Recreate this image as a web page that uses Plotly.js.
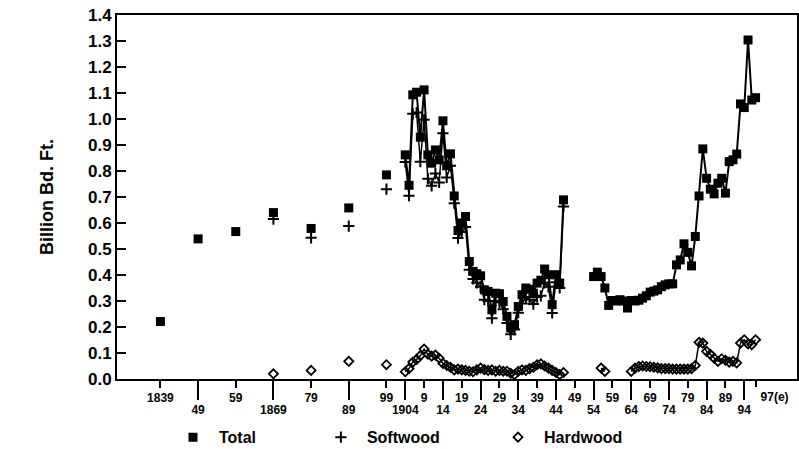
<!DOCTYPE html>
<html>
<head>
<meta charset="utf-8">
<script src="https://cdn.plot.ly/plotly-3.0.1.min.js"></script>
<style>html,body{margin:0;padding:0;background:#fff;}#chart{width:799px;height:449px;}</style>
</head>
<body>
<div id="chart"></div>
<script>
// ---- data ----
const decadeYears = [1839, 1849, 1859, 1869, 1879, 1889, 1899];
const decadeTotal = [0.221, 0.539, 0.567, 0.640, 0.579, 0.658, 0.785];
const decadeSoftwood = [null, null, null, 0.615, 0.543, 0.588, 0.730];
const decadeHardwood = [null, null, null, 0.020, 0.033, 0.068, 0.055];

const earlyYears = [1904,1905,1906,1907,1908,1909,1910,1911,1912,1913,1914,1915,1916,1917,1918,1919,1920,1921,1922,1923,1924,1925,1926,1927,1928,1929,1930,1931,1932,1933,1934,1935,1936,1937,1938,1939,1940,1941,1942,1943,1944,1945,1946];
const earlyTotal = [0.862,0.745,1.093,1.103,0.930,1.112,0.862,0.830,0.881,0.843,0.993,0.820,0.866,0.704,0.571,0.600,0.625,0.452,0.414,0.405,0.397,0.343,0.337,0.266,0.330,0.328,0.298,0.241,0.196,0.209,0.279,0.324,0.350,0.345,0.330,0.369,0.380,0.423,0.401,0.286,0.401,0.369,0.689];
const earlySoftwood = [0.835,0.705,1.020,1.025,0.836,0.997,0.770,0.743,0.790,0.756,0.945,0.775,0.820,0.676,0.542,0.565,0.585,0.420,0.385,0.370,0.355,0.305,0.300,0.234,0.300,0.295,0.268,0.215,0.172,0.190,0.255,0.290,0.315,0.305,0.288,0.315,0.320,0.370,0.355,0.254,0.372,0.350,0.663];
const earlyHardwood = [0.028,0.040,0.065,0.075,0.090,0.115,0.095,0.088,0.092,0.080,0.060,0.052,0.045,0.035,0.038,0.035,0.033,0.030,0.028,0.035,0.042,0.036,0.033,0.035,0.030,0.033,0.030,0.030,0.022,0.017,0.030,0.035,0.033,0.040,0.045,0.055,0.058,0.050,0.042,0.033,0.025,0.017,0.025];

const modernYears = [1954,1955,1956,1957,1958,1959,1960,1961,1962,1963,1964,1965,1966,1967,1968,1969,1970,1971,1972,1973,1974,1975,1976,1977,1978,1979,1980,1981,1982,1983,1984,1985,1986,1987,1988,1989,1990,1991,1992,1993,1994,1995,1996,1997];
const modernTotal = [0.394,0.411,0.394,0.350,0.283,0.302,0.300,0.305,0.300,0.273,0.302,0.300,0.303,0.311,0.320,0.334,0.338,0.343,0.355,0.362,0.366,0.366,0.439,0.458,0.520,0.487,0.435,0.548,0.704,0.885,0.772,0.730,0.712,0.753,0.772,0.715,0.836,0.843,0.865,1.058,1.044,1.304,1.073,1.082];
const modernHardwood = [null,null,0.042,0.029,null,null,null,null,null,null,0.029,0.042,0.048,0.050,0.048,0.047,0.045,0.043,0.040,0.040,0.040,0.038,0.038,0.038,0.038,0.038,0.040,0.052,0.141,0.138,0.106,0.095,0.080,0.068,0.078,0.072,0.065,0.068,0.062,0.138,0.151,0.135,0.132,0.151];

// tick labels
const shortTickYears = [1839,1859,1879,1899,1909,1919,1929,1939,1949,1959,1969,1979,1989];
const shortTickText = ['1839','59','79','99','9','19','29','39','49','59','69','79','89'];
const estTickYears = [1997];
const estTickText = ['97(e)'];
const longTickYears = [1849,1869,1889,1904,1914,1924,1934,1944,1954,1964,1974,1984,1994];
const longTickText = ['49','1869','89','1904','14','24','34','44','54','64','74','84','94'];
const yTicks = [0,0.1,0.2,0.3,0.4,0.5,0.6,0.7,0.8,0.9,1.0,1.1,1.2,1.3,1.4];

// ---- styles ----
const FONT = 'Arial, "Liberation Sans", Helvetica, sans-serif';
const sq = {symbol:'square', size:9, color:'#000'};
const cr = {symbol:'cross-thin', size:8, color:'#000', line:{color:'#000', width:2}};
const dm = {symbol:'diamond-open', size:7, color:'#000', line:{color:'#000', width:1.8}};
const tickFont = {family:FONT, size:12, weight:'bold', color:'#000'};
const legFont = {family:FONT, size:16, weight:'bold', color:'#000'};

const traces = [
  {x:decadeYears, y:decadeSoftwood, mode:'markers', marker:cr, name:'Softwood', legend:'legend2', showlegend:true},
  {x:earlyYears, y:earlySoftwood, mode:'lines+markers', marker:cr, line:{color:'#000', width:1.5}, showlegend:false},
  {x:decadeYears, y:decadeHardwood, mode:'markers', marker:dm, name:'Hardwood', legend:'legend3', showlegend:true},
  {x:earlyYears, y:earlyHardwood, mode:'lines+markers', marker:dm, line:{color:'#000', width:1.5}, showlegend:false},
  {x:modernYears, y:modernHardwood, mode:'lines+markers', marker:dm, line:{color:'#000', width:1.5}, showlegend:false, connectgaps:false},
  {x:decadeYears, y:decadeTotal, mode:'markers', marker:sq, name:'Total', legend:'legend', showlegend:true},
  {x:earlyYears, y:earlyTotal, mode:'lines+markers', marker:sq, line:{color:'#000', width:2}, showlegend:false},
  {x:modernYears, y:modernTotal, mode:'lines+markers', marker:sq, line:{color:'#000', width:2}, showlegend:false},
  {x:[null], y:[null], xaxis:'x2', yaxis:'y', mode:'markers', showlegend:false, hoverinfo:'skip'},
  {x:[null], y:[null], xaxis:'x3', yaxis:'y', mode:'markers', showlegend:false, hoverinfo:'skip'}
];

function leg(x) {
  return {orientation:'h', x:x, xanchor:'left', y:-0.16, yanchor:'middle', itemwidth:42,
          font:legFont, bgcolor:'rgba(0,0,0,0)', borderwidth:0};
}

const xRange = [1827.47, 2008.0];
const layout = {
  width:799, height:449,
  margin:{l:117, r:2, t:15, b:70, autoexpand:false},
  paper_bgcolor:'#fff', plot_bgcolor:'#fff',
  font:{family:FONT, color:'#000'},
  showlegend:true,
  legend:leg(0.0735),
  legend2:leg(0.291),
  legend3:leg(0.5515),
  xaxis:{range:xRange, showgrid:false, zeroline:false, showline:true, linecolor:'#000', linewidth:2, mirror:true,
         tickmode:'array', tickvals:shortTickYears, ticktext:shortTickText, ticks:'outside', ticklen:7, tickwidth:2, tickcolor:'#000',
         tickfont:tickFont, fixedrange:true},
  xaxis2:{range:xRange, overlaying:'x', side:'bottom', anchor:'y', showgrid:false, zeroline:false, showline:false,
          tickmode:'array', tickvals:longTickYears, ticktext:longTickText, ticks:'outside', ticklen:20, tickwidth:2, tickcolor:'#000',
          tickfont:tickFont, fixedrange:true},
  xaxis3:{range:xRange, overlaying:'x', side:'bottom', anchor:'y', showgrid:false, zeroline:false, showline:false,
          tickmode:'array', tickvals:estTickYears, ticktext:estTickText, ticks:'outside', ticklen:7, tickwidth:2, tickcolor:'#000',
          ticklabelshift:19, tickfont:tickFont, fixedrange:true},
  yaxis:{range:[0,1.4], showgrid:false, zeroline:false, showline:true, linecolor:'#000', linewidth:2, mirror:true,
         tickmode:'array', tickvals:yTicks, ticktext:yTicks.map(v=>v.toFixed(1)), ticks:'inside', ticklen:9, tickwidth:2, tickcolor:'#000',
         tickfont:{family:FONT, size:17, weight:'bold', color:'#000'},
         title:{text:'Billion Bd. Ft.', font:{family:FONT, size:18, weight:'bold', color:'#000'}, standoff:30}, fixedrange:true}
};

Plotly.newPlot('chart', traces, layout, {displayModeBar:false, staticPlot:true});
</script>
</body>
</html>
